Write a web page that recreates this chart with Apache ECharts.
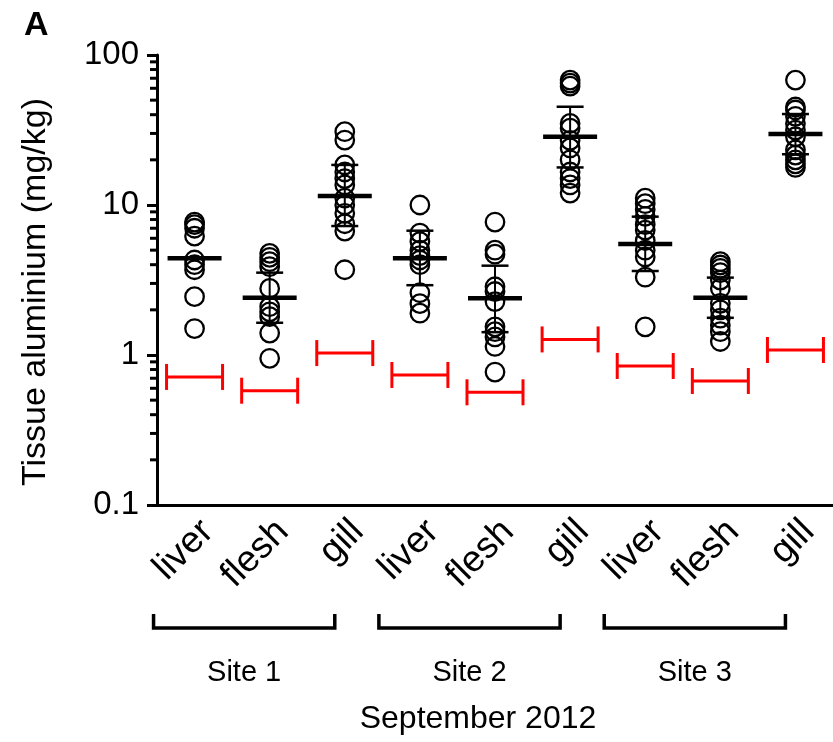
<!DOCTYPE html>
<html><head><meta charset="utf-8">
<script src="https://cdn.jsdelivr.net/npm/echarts@6/dist/echarts.min.js"></script>
<style>html,body{margin:0;padding:0;background:#fff}#c{width:833px;height:742px}</style>
</head><body><div id="c"></div>
<script>
const categories = ['liver','flesh','gill','liver','flesh','gill','liver','flesh','gill'];
const sites = ['Site 1','Site 2','Site 3'];
const siteStart = [0,3,6];
const siteEnd = [2,5,8];
const yTicks = [0.1, 1, 10, 100];
const minorTickValues = [0.2,0.3,0.4,0.5,0.6,0.7,0.8,0.9,2,3,4,5,6,7,8,9,20,30,40,50,60,70,80,90];

const s1Liver = [7.7, 7.4, 7.0, 6.2, 4.3, 4.0, 3.7, 2.45, 1.5];
const s1Flesh = [4.76, 4.48, 4.19, 3.88, 2.78, 2.1, 1.94, 1.8, 1.4, 0.95];
const s1Gill  = [30.8, 27.1, 18.5, 16.6, 15.0, 13.6, 11.1, 10.0, 8.8, 7.5, 6.7, 3.7];
const s2Liver = [10.0, 6.5, 5.7, 5.0, 4.6, 4.3, 4.0, 2.6, 2.2, 1.9];
const s2Flesh = [7.7, 5.0, 4.7, 2.85, 2.65, 2.27, 1.54, 1.43, 1.32, 1.14, 0.77];
const s2Gill  = [68, 65, 62, 35, 32.5, 27, 24, 20, 16.6, 15, 13.6, 12];
const s3Liver = [11.1, 10.2, 9.35, 8.4, 7.4, 6.8, 5.8, 5.0, 4.5, 3.3, 1.54];
const s3Flesh = [4.19, 3.98, 3.78, 3.54, 3.16, 2.78, 2.21, 2.0, 1.76, 1.58, 1.43, 1.23];
const s3Gill  = [68, 45, 43, 39, 35, 31.6, 28.5, 23.3, 21.5, 20, 18.8, 17.8];

const means   = [4.41, 2.41, 11.5, 4.41, 2.39, 28.5, 5.5, 2.41, 29.7];
const errLow  = [null, 1.64, 7.24, 2.92, 1.42, 17.8, 3.63, 1.77, 21.8];
const errHigh = [null, 3.54, 18.5, 6.74, 3.94, 45.2, 8.36, 3.28, 40.4];
const limits  = [0.714, 0.578, 1.03, 0.736, 0.564, 1.27, 0.845, 0.671, 1.08];

const groups = [s1Liver, s1Flesh, s1Gill, s2Liver, s2Flesh, s2Gill, s3Liver, s3Flesh, s3Gill];
const points = [];
groups.forEach((g, i) => g.forEach(v => points.push([i, v])));

const FONT = '"Liberation Sans", Arial, sans-serif';
const chart = echarts.init(document.getElementById('c'));
chart.setOption({
  animation: false,
  backgroundColor: '#fff',
  grid: {left: 157, top: 55, width: 679, height: 450},
  xAxis: {
    type: 'category', data: categories, boundaryGap: true,
    axisLine: {lineStyle: {color: '#000', width: 3}},
    axisTick: {alignWithLabel: true, length: 10, lineStyle: {color: '#000', width: 3}},
    axisLabel: {rotate: 45, fontSize: 37, color: '#000', fontFamily: FONT, margin: 8, interval: 0, verticalAlign: 'top'},
    splitLine: {show: false}
  },
  yAxis: {
    type: 'log', logBase: 10, min: 0.1, max: 100,
    axisLine: {show: true, lineStyle: {color: '#000', width: 3}},
    axisTick: {show: true, length: 10, lineStyle: {color: '#000', width: 3}},
    axisLabel: {fontSize: 33, color: '#000', fontFamily: FONT, margin: 18,
      formatter: v => { const t = yTicks.find(x => Math.abs(x - v) / x < 1e-6); return t === undefined ? '' : String(t); }},
    splitLine: {show: false}
  },
  graphic: [
    {type: 'text', left: 24, top: 9, style: {text: 'A', font: 'bold 34px ' + FONT, fill: '#000'}},
    {type: 'text', x: 36, y: 292, rotation: Math.PI / 2,
      style: {text: 'Tissue aluminium (mg/kg)', font: '34px ' + FONT, fill: '#000', textAlign: 'center', textVerticalAlign: 'middle'}},
    {type: 'text', x: 478, y: 719,
      style: {text: 'September 2012', font: '32px ' + FONT, fill: '#000', textAlign: 'center', textVerticalAlign: 'middle'}}
  ],
  series: [
    {
      type: 'custom', coordinateSystem: 'cartesian2d', clip: false, silent: true,
      data: minorTickValues.map(v => [0, v]),
      renderItem: (params, api) => {
        const p = api.coord([0, api.value(1)]);
        const x0 = params.coordSys.x;
        return {type: 'line', shape: {x1: x0 - 7, y1: p[1], x2: x0, y2: p[1]}, style: {stroke: '#000', lineWidth: 3}};
      }
    },
    {
      type: 'scatter', data: points, symbol: 'circle', symbolSize: 18.5, z: 2,
      itemStyle: {color: 'rgba(0,0,0,0)', borderColor: '#000', borderWidth: 2.3, opacity: 1}
    },
    {
      type: 'custom', coordinateSystem: 'cartesian2d', clip: false, z: 3, silent: true,
      data: means.map((m, i) => [i, m, errLow[i] == null ? NaN : errLow[i], errHigh[i] == null ? NaN : errHigh[i]]),
      renderItem: (params, api) => {
        const i = api.value(0);
        const pm = api.coord([i, api.value(1)]);
        const children = [{type: 'line', shape: {x1: pm[0] - 27, y1: pm[1], x2: pm[0] + 27, y2: pm[1]}, style: {stroke: '#000', lineWidth: 4.5}}];
        const lo = api.value(2), hi = api.value(3);
        if (!isNaN(lo) && !isNaN(hi)) {
          const pl = api.coord([i, lo]), ph = api.coord([i, hi]);
          children.push({type: 'line', shape: {x1: pm[0], y1: pl[1], x2: pm[0], y2: ph[1]}, style: {stroke: '#000', lineWidth: 2}});
          children.push({type: 'line', shape: {x1: pm[0] - 13.5, y1: pl[1], x2: pm[0] + 13.5, y2: pl[1]}, style: {stroke: '#000', lineWidth: 2.5}});
          children.push({type: 'line', shape: {x1: pm[0] - 13.5, y1: ph[1], x2: pm[0] + 13.5, y2: ph[1]}, style: {stroke: '#000', lineWidth: 2.5}});
        }
        return {type: 'group', children};
      }
    },
    {
      type: 'custom', coordinateSystem: 'cartesian2d', clip: false, z: 3, silent: true,
      data: limits.map((v, i) => [i, v]),
      renderItem: (params, api) => {
        const p = api.coord([api.value(0), api.value(1)]);
        const st = {stroke: '#ff0000', lineWidth: 3};
        return {type: 'group', children: [
          {type: 'line', shape: {x1: p[0] - 28, y1: p[1], x2: p[0] + 28, y2: p[1]}, style: st},
          {type: 'line', shape: {x1: p[0] - 28, y1: p[1] - 13, x2: p[0] - 28, y2: p[1] + 13}, style: st},
          {type: 'line', shape: {x1: p[0] + 28, y1: p[1] - 13, x2: p[0] + 28, y2: p[1] + 13}, style: st}
        ]};
      }
    },
    {
      type: 'custom', coordinateSystem: 'cartesian2d', clip: false, z: 3, silent: true,
      data: sites.map((s, k) => [siteStart[k], siteEnd[k], k]),
      renderItem: (params, api) => {
        const a = api.coord([api.value(0), 0.1]);
        const b = api.coord([api.value(1), 0.1]);
        const k = api.value(2);
        const y = a[1] + 123;
        const x1 = a[0] - 41, x2 = b[0] - 10;
        return {type: 'group', children: [
          {type: 'polyline', shape: {points: [[x1, y - 14], [x1, y], [x2, y], [x2, y - 14]]}, style: {stroke: '#000', lineWidth: 3.5, fill: null}},
          {type: 'text', style: {text: sites[k], x: (x1 + x2) / 2, y: y + 45, align: 'center', verticalAlign: 'middle', font: '29px ' + FONT, fill: '#000'}}
        ]};
      }
    }
  ]
});
</script></body></html>
